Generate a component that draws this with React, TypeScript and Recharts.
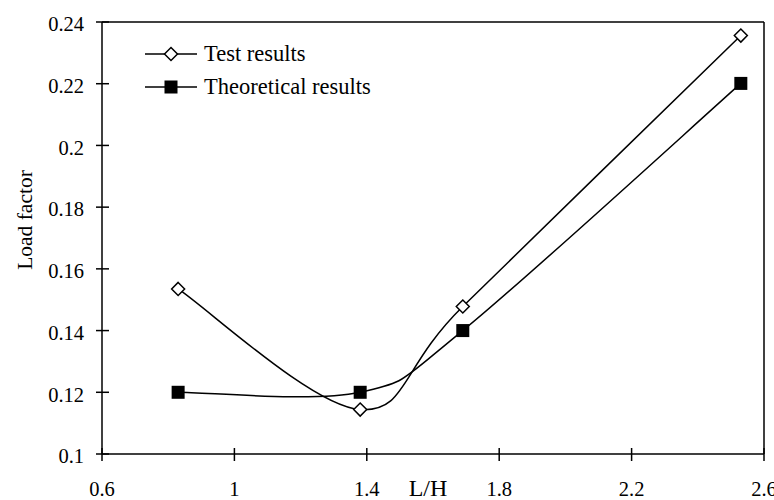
import React from 'react';
import { LineChart, Line, XAxis, YAxis, ReferenceLine } from 'recharts';

// L/H ratios and load factors
const lhRatios = [0.83, 1.38, 1.69, 2.53];
const testResults = [0.1535, 0.1144, 0.1478, 0.2356];
const theoreticalResults = [0.12, 0.12, 0.14, 0.2201];

const xTicks = [0.6, 1, 1.4, 1.8, 2.2, 2.6];
const yTicks = [0.1, 0.12, 0.14, 0.16, 0.18, 0.2, 0.22, 0.24];

const data = lhRatios.map((lh, i) => ({
  lh,
  test: testResults[i],
  theory: theoreticalResults[i],
}));

const FONT = '"Liberation Serif", "Times New Roman", serif';
const TICK_SIZE = 6;
const Y_TICK_MARGIN = 12;
const X_TICK_MARGIN = 21;

const fmt = (v: number) => String(Math.round(v * 100) / 100);

// Excel style smoothed line (Catmull-Rom as bezier), fed by the scaled points
const smoothCurve = (context: any) => {
  let pts: [number, number][] = [];
  return {
    areaStart() {},
    areaEnd() {},
    lineStart() {
      pts = [];
    },
    point(x: number, y: number) {
      pts.push([+x, +y]);
    },
    lineEnd() {
      if (!pts.length) return;
      context.moveTo(pts[0][0], pts[0][1]);
      for (let i = 0; i < pts.length - 1; i++) {
        const p0 = pts[i - 1] || pts[i];
        const p1 = pts[i];
        const p2 = pts[i + 1];
        const p3 = pts[i + 2] || p2;
        context.bezierCurveTo(
          p1[0] + (p2[0] - p0[0]) / 6,
          p1[1] + (p2[1] - p0[1]) / 6,
          p2[0] - (p3[0] - p1[0]) / 6,
          p2[1] - (p3[1] - p1[1]) / 6,
          p2[0],
          p2[1]
        );
      }
    },
  };
};

const YTick = (props: any) => {
  const { x, y, payload } = props;
  const ax = x + TICK_SIZE + Y_TICK_MARGIN;
  return (
    <g>
      <line x1={ax - 6} x2={ax + 7} y1={y} y2={y} stroke="#000" strokeWidth={1.5} />
      <text x={x} y={y} dy="0.45em" textAnchor="end" fontFamily={FONT} fontSize={20.5} fill="#000">
        {fmt(payload.value)}
      </text>
    </g>
  );
};

const XTick = (props: any) => {
  const { x, y, payload } = props;
  const ay = y - TICK_SIZE - X_TICK_MARGIN;
  return (
    <g>
      <line x1={x} x2={x} y1={ay - 6} y2={ay + 7} stroke="#000" strokeWidth={1.5} />
      <text x={x} y={y} dy="0.71em" textAnchor="middle" fontFamily={FONT} fontSize={20.5} fill="#000">
        {fmt(payload.value)}
      </text>
    </g>
  );
};

const renderDiamond = (p: any) => {
  const { cx, cy, index } = p;
  const r = 6.5;
  return (
    <polygon
      key={`d-${index}`}
      points={`${cx},${cy - r} ${cx + r},${cy} ${cx},${cy + r} ${cx - r},${cy}`}
      fill="#fff"
      stroke="#000"
      strokeWidth={1.5}
    />
  );
};

const renderSquare = (p: any) => {
  const { cx, cy, index } = p;
  return <rect key={`s-${index}`} x={cx - 6.5} y={cy - 6.5} width={13} height={13} fill="#000" />;
};

const LegendRow = ({ label, filled }: { label: string; filled: boolean }) => (
  <div style={{ display: 'flex', alignItems: 'center', height: 33 }}>
    <svg width={52} height={16}>
      <line x1={0} x2={52} y1={8} y2={8} stroke="#000" strokeWidth={1.5} />
      {filled ? (
        <rect x={19.5} y={1.5} width={13} height={13} fill="#000" />
      ) : (
        <polygon points="26,1.5 32.5,8 26,14.5 19.5,8" fill="#fff" stroke="#000" strokeWidth={1.5} />
      )}
    </svg>
    <span style={{ marginLeft: 7, fontFamily: FONT, fontSize: 22.5, color: '#000', whiteSpace: 'nowrap' }}>
      {label}
    </span>
  </div>
);

export default function App() {
  return (
    <div
      style={{
        position: 'relative',
        width: 774,
        height: 500,
        padding: '8px 0 0 8px',
        boxSizing: 'border-box',
        background: '#fff',
        overflow: 'hidden',
      }}
    >
      <style>{'body { margin: 0; }'}</style>
      <LineChart width={766} height={492} data={data} margin={{ top: 14, right: 10, bottom: 0, left: 0 }}>
        <XAxis
          dataKey="lh"
          type="number"
          domain={[0.6, 2.6]}
          ticks={xTicks}
          height={46}
          stroke="#000"
          strokeWidth={1.5}
          tickLine={false}
          tickSize={TICK_SIZE}
          tickMargin={X_TICK_MARGIN}
          tick={<XTick />}
          label={{
            content: (lp: any) => {
              const vb = lp.viewBox;
              return (
                <text x={vb.x + vb.width / 2 - 5} y={vb.y + 42} textAnchor="middle" fontFamily={FONT} fontSize={24} fill="#000">
                  L/H
                </text>
              );
            },
          }}
        />
        <YAxis
          type="number"
          domain={[0.1, 0.24]}
          ticks={yTicks}
          width={94}
          stroke="#000"
          strokeWidth={1.5}
          tickLine={false}
          tickSize={TICK_SIZE}
          tickMargin={Y_TICK_MARGIN}
          tick={<YTick />}
          label={{
            content: (lp: any) => {
              const vb = lp.viewBox;
              const cy = vb.y + vb.height / 2 - 18;
              return (
                <text x={24} y={cy} transform={`rotate(-90, 24, ${cy})`} textAnchor="middle" fontFamily={FONT} fontSize={21.5} fill="#000">
                  Load factor
                </text>
              );
            },
          }}
        />
        <ReferenceLine y={0.24} stroke="#000" strokeWidth={1.5} />
        <ReferenceLine x={2.6} stroke="#000" strokeWidth={1.5} />
        <Line
          dataKey="test"
          type={smoothCurve as any}
          stroke="#000"
          strokeWidth={1.5}
          dot={renderDiamond}
          activeDot={false}
          isAnimationActive={false}
        />
        <Line
          dataKey="theory"
          type={smoothCurve as any}
          stroke="#000"
          strokeWidth={1.5}
          dot={renderSquare}
          activeDot={false}
          isAnimationActive={false}
        />
      </LineChart>
      <div style={{ position: 'absolute', left: 145, top: 37 }}>
        <LegendRow label="Test results" filled={false} />
        <LegendRow label="Theoretical results" filled={true} />
      </div>
    </div>
  );
}
